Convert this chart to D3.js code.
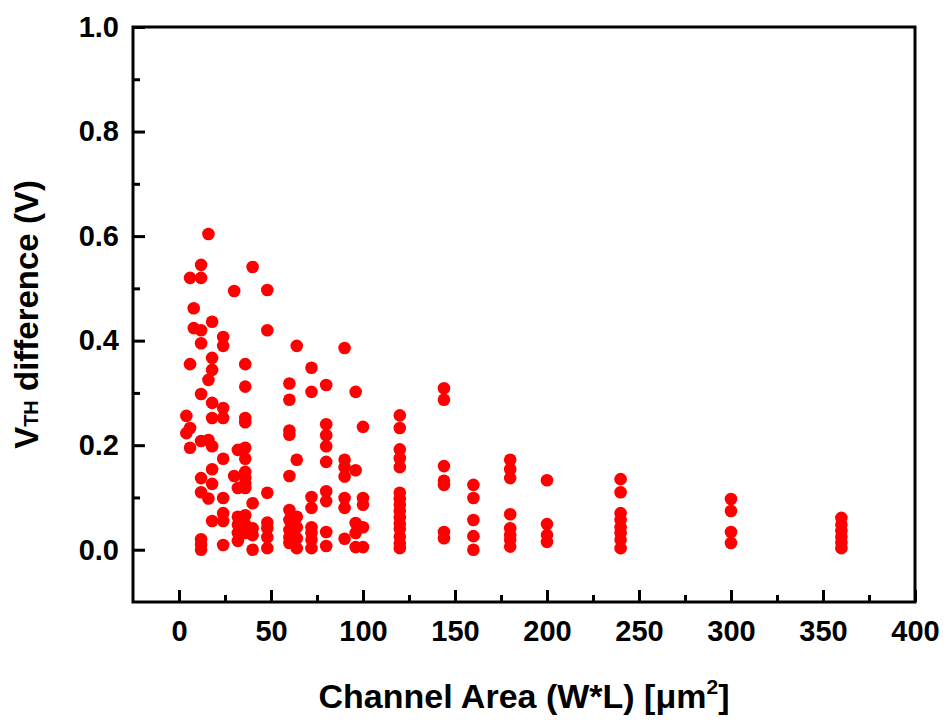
<html>
  <head>
    <script src="https://d3js.org/d3.v7.min.js"></script>
    <style>
      body { margin: 0; background: #fff; }
      text { font-family: "Liberation Sans", Arial, sans-serif; font-weight: bold; }
    </style>
  </head>

  <body>
    <svg id="vis"></svg>
  </body>

  <script>
    // Channel areas (W*L, um^2) and the VTH differences measured at each one
    var areas = [4, 6, 8, 12, 16, 18, 24, 30, 32, 36, 40, 48, 60, 64, 72, 80, 90, 96, 100, 120, 144, 160, 180, 200, 240, 300, 360]
    var vthDiff = [
      [0.256, 0.223],
      [0.520, 0.355, 0.233, 0.195],
      [0.462, 0.424],
      [0.545, 0.520, 0.420, 0.395, 0.298, 0.208, 0.137, 0.110, 0.020, 0.010, 0.000],
      [0.604, 0.325, 0.210, 0.098],
      [0.436, 0.367, 0.344, 0.281, 0.252, 0.198, 0.154, 0.126, 0.055],
      [0.407, 0.390, 0.271, 0.252, 0.174, 0.099, 0.070, 0.055, 0.009],
      [0.495, 0.141],
      [0.191, 0.118, 0.063, 0.048, 0.032, 0.017],
      [0.355, 0.312, 0.252, 0.244, 0.195, 0.174, 0.149, 0.137, 0.126, 0.118, 0.066, 0.048, 0.032],
      [0.541, 0.089, 0.041, 0.028, 0.000],
      [0.497, 0.420, 0.109, 0.052, 0.041, 0.024, 0.003],
      [0.318, 0.287, 0.228, 0.220, 0.141, 0.076, 0.057, 0.038, 0.024, 0.013],
      [0.390, 0.172, 0.063, 0.043, 0.022, 0.003],
      [0.348, 0.302, 0.101, 0.080, 0.043, 0.032, 0.019, 0.003],
      [0.315, 0.240, 0.219, 0.198, 0.168, 0.112, 0.093, 0.034, 0.007],
      [0.386, 0.172, 0.158, 0.140, 0.099, 0.080, 0.021],
      [0.302, 0.152, 0.051, 0.032, 0.005],
      [0.235, 0.099, 0.086, 0.043, 0.005],
      [0.257, 0.233, 0.192, 0.175, 0.158, 0.109, 0.097, 0.086, 0.074, 0.062, 0.050, 0.040, 0.025, 0.012, 0.003],
      [0.309, 0.287, 0.160, 0.132, 0.124, 0.034, 0.022],
      [0.124, 0.099, 0.057, 0.026, 0.000],
      [0.172, 0.154, 0.137, 0.068, 0.041, 0.028, 0.019, 0.006],
      [0.133, 0.049, 0.028, 0.015],
      [0.135, 0.110, 0.070, 0.057, 0.043, 0.032, 0.019, 0.003],
      [0.097, 0.074, 0.034, 0.013],
      [0.061, 0.048, 0.036, 0.025, 0.014, 0.003]
    ]

    // Tick values
    var xTicks = [0, 50, 100, 150, 200, 250, 300, 350, 400]
    var xMinor = [25, 75, 125, 175, 225, 275, 325, 375]
    var yTicks = [0.0, 0.2, 0.4, 0.6, 0.8, 1.0]
    var yMinor = [0.1, 0.3, 0.5, 0.7, 0.9]

    // Set up dimensions
    var margin = {top: 27, right: 34, bottom: 123, left: 133}
    var width = 949 - margin.left - margin.right
    var height = 725 - margin.top - margin.bottom

    var svg = d3.select('svg')
      .attr("width", 949)
      .attr("height", 725)
      .append("g")
      .attr("transform", "translate(" + margin.left + "," + margin.top + ")")

    var x = d3.scaleLinear().domain([-25, 400]).range([0, width])
    var y = d3.scaleLinear().domain([-0.1, 1.0]).range([height, 0])

    // flatten into points
    var points = []
    areas.forEach(function(a, i) {
      vthDiff[i].forEach(function(v) { points.push({area: a, diff: v}) })
    })

    // Points
    svg.append("g")
      .selectAll("circle")
      .data(points)
      .enter()
      .append("circle")
      .attr("cx", function(d) { return x(d.area) })
      .attr("cy", function(d) { return y(d.diff) })
      .attr("r", 6.3)
      .attr("fill", "#ff0000")

    // Bottom axis, ticks pointing in
    var xAxis = svg.append("g")
      .attr("transform", "translate(0," + height + ")")
      .call(d3.axisBottom(x).tickValues(xTicks).tickSize(-12).tickPadding(18).tickFormat(d3.format("d")))
    xAxis.append("g")
      .call(d3.axisBottom(x).tickValues(xMinor).tickSize(-7).tickFormat(""))

    // Left axis
    var yAxis = svg.append("g")
      .call(d3.axisLeft(y).tickValues(yTicks).tickSize(-12).tickPadding(14).tickFormat(d3.format(".1f")))
    yAxis.append("g")
      .call(d3.axisLeft(y).tickValues(yMinor).tickSize(-7).tickFormat(""))

    svg.selectAll(".domain").remove()
    svg.selectAll(".tick line").attr("stroke", "#000").attr("stroke-width", 3)
    svg.selectAll(".tick text").attr("fill", "#000").style("font-size", "29px")
    xAxis.selectAll(".tick text").attr("dy", "0.71em")

    // Frame
    svg.append("rect")
      .attr("width", width)
      .attr("height", height)
      .attr("fill", "none")
      .attr("stroke", "#000")
      .attr("stroke-width", 3)

    // X title
    var xt = svg.append("text")
      .attr("x", width / 2)
      .attr("y", height + 106)
      .attr("text-anchor", "middle")
      .style("font-size", "34px")
    xt.append("tspan").text("Channel Area (W*L) [\u03bcm")
    xt.append("tspan").text("2").style("font-size", "21px").attr("dy", -14)
    xt.append("tspan").text("]").attr("dy", 14)

    // Y title
    var yt = svg.append("text")
      .attr("transform", "translate(" + (38 - margin.left) + "," + (height / 2) + ") rotate(-90)")
      .attr("text-anchor", "middle")
      .style("font-size", "33px")
    yt.append("tspan").text("V")
    yt.append("tspan").text("TH").style("font-size", "20px")
    yt.append("tspan").text(" difference (V)")
  </script>

</html>
